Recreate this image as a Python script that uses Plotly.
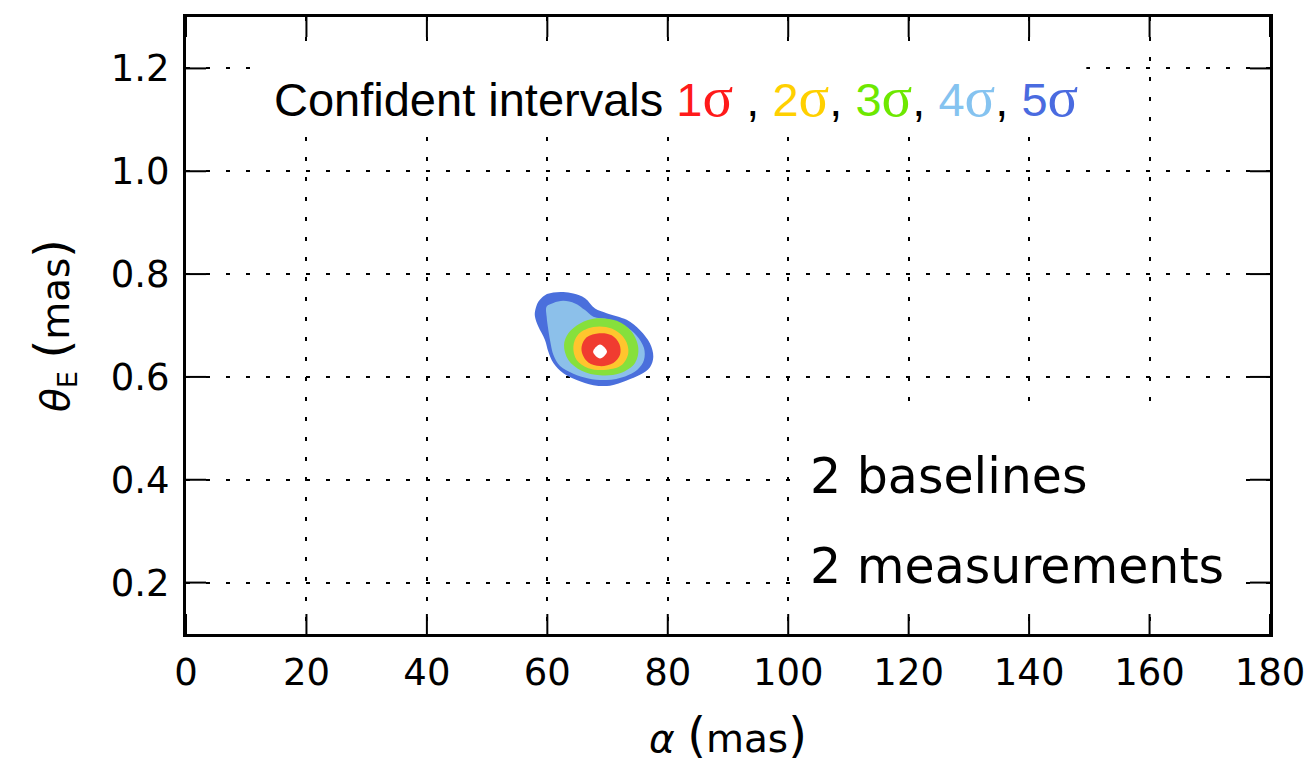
import plotly.graph_objects as go

# Confidence regions in the (alpha, theta_E) plane, outer to inner.
SIGMA5_X = [57.95, 58.50, 59.61, 61.00, 62.66, 64.32, 66.26, 67.92, 69.85, 73.18,
            75.39, 77.05, 77.60, 77.05, 75.39, 73.18, 70.41, 67.64, 64.87, 62.66,
            61.00, 60.17, 59.61, 58.50, 57.95]
SIGMA5_Y = [0.727, 0.746, 0.759, 0.764, 0.765, 0.762, 0.753, 0.733, 0.724, 0.711,
            0.691, 0.665, 0.639, 0.619, 0.604, 0.593, 0.583, 0.584, 0.594, 0.607,
            0.627, 0.649, 0.672, 0.698, 0.717]

SIGMA4_X = [59.89, 61.00, 62.66, 64.60, 66.26, 67.64, 70.10, 72.90, 74.84, 76.05,
            76.05, 74.95, 72.90, 69.85, 66.81, 64.32, 62.11, 61.00, 60.55, 60.17, 59.89]
SIGMA4_Y = [0.737, 0.744, 0.748, 0.743, 0.730, 0.717, 0.712, 0.699, 0.680, 0.656,
            0.633, 0.614, 0.601, 0.594, 0.597, 0.606, 0.621, 0.643, 0.665, 0.691, 0.717]

SIGMA3_X = [62.77, 63.49, 65.43, 68.19, 71.52, 74.01, 75.11, 74.56, 72.07, 68.75, 65.70, 63.49]
SIGMA3_Y = [0.662, 0.685, 0.704, 0.714, 0.709, 0.688, 0.656, 0.627, 0.607, 0.603, 0.612, 0.633]

SIGMA2_X = [64.32, 65.15, 67.64, 70.69, 72.90, 73.45, 72.35, 69.85, 66.81, 64.87]
SIGMA2_Y = [0.659, 0.683, 0.697, 0.694, 0.673, 0.647, 0.623, 0.614, 0.617, 0.633]

SIGMA1_X = [65.70, 66.53, 68.64, 70.69, 71.96, 72.07, 70.96, 68.75, 66.81, 65.87]
SIGMA1_Y = [0.659, 0.677, 0.685, 0.681, 0.664, 0.643, 0.627, 0.621, 0.628, 0.643]

PEAK_X = [67.60, 68.75, 69.90, 68.75]
PEAK_Y = [0.649, 0.663, 0.649, 0.636]

X_TICKS = [0, 20, 40, 60, 80, 100, 120, 140, 160, 180]
Y_TICKS = [0.2, 0.4, 0.6, 0.8, 1.0, 1.2]
X_RANGE = [0, 180]
Y_RANGE = [0.1, 1.3]

REGIONS = [
    (SIGMA5_X, SIGMA5_Y, "#4a6fdc", "5σ"),
    (SIGMA4_X, SIGMA4_Y, "#8cc0ea", "4σ"),
    (SIGMA3_X, SIGMA3_Y, "#86e03c", "3σ"),
    (SIGMA2_X, SIGMA2_Y, "#ffc52e", "2σ"),
    (SIGMA1_X, SIGMA1_Y, "#f03c30", "1σ"),
    (PEAK_X, PEAK_Y, "#ffffff", "best fit"),
]

fig = go.Figure()
for xs, ys, color, name in REGIONS:
    fig.add_trace(go.Scatter(
        x=xs + xs[:1], y=ys + ys[:1], mode="lines", name=name,
        line=dict(color=color, width=0, shape="spline", smoothing=1.0),
        fill="toself", fillcolor=color, hoverinfo="skip", showlegend=False,
    ))

# White boxes behind the two text blocks.
fig.add_shape(type="rect", xref="x", yref="y", x0=12, x1=149.5, y0=1.075, y1=1.25,
              fillcolor="white", line=dict(width=0))
fig.add_shape(type="rect", xref="x", yref="y", x0=100.6, x1=173.5, y0=0.145, y1=0.525,
              fillcolor="white", line=dict(width=0))

# Inward tick marks on all four sides of the frame.
TICK_LEN = 20
tick_line = dict(color="black", width=2)
for xv in X_TICKS:
    for edge, sgn in ((0, 1), (1, -1)):
        fig.add_shape(type="line", xref="x", yref="paper", ysizemode="pixel", yanchor=edge,
                      x0=xv, x1=xv, y0=0, y1=sgn * TICK_LEN, line=tick_line)
for yv in Y_TICKS:
    for edge, sgn in ((0, 1), (1, -1)):
        fig.add_shape(type="line", xref="paper", yref="y", xsizemode="pixel", xanchor=edge,
                      x0=0, x1=sgn * TICK_LEN, y0=yv, y1=yv, line=tick_line)

SIG = "<span style='font-family:Liberation Serif;font-size:57px;color:{c}'>σ</span>"
def sig(n, c):
    return f"<span style='color:{c}'>{n}</span>" + SIG.format(c=c)

title_text = ("Confident intervals " + sig(1, "#ff1a1a") + " , " + sig(2, "#ffd000") + ", "
              + sig(3, "#6de800") + ", " + sig(4, "#85c3f0") + ", " + sig(5, "#4a6be0"))
fig.add_annotation(x=14.3, y=1.145, xref="x", yref="y", text=title_text, showarrow=False,
                   xanchor="left", yanchor="middle",
                   font=dict(family="Liberation Sans", size=47, color="black"))

hand = dict(family="DejaVu Sans", size=49, color="black")
fig.add_annotation(x=103.3, y=0.407, xref="x", yref="y", text="2 baselines", showarrow=False,
                   xanchor="left", yanchor="middle", font=hand)
fig.add_annotation(x=103.3, y=0.232, xref="x", yref="y", text="2 measurements", showarrow=False,
                   xanchor="left", yanchor="middle", font=hand)

frame = dict(showgrid=True, gridcolor="black", gridwidth=2, griddash="4px,16px",
             ticks="", showline=True, linewidth=3, linecolor="black", mirror=True,
             zeroline=False, automargin=False)

PAREN = "<span style='font-size:48px'>{}</span>"
fig.update_layout(
    template="none",
    width=1311, height=773, margin=dict(l=186, r=41, t=17, b=139),
    plot_bgcolor="white", paper_bgcolor="white", showlegend=False,
    xaxis=dict(range=X_RANGE, tickvals=X_TICKS, ticklabelstandoff=4,
               tickfont=dict(family="DejaVu Sans", size=37, color="black"),
               title=dict(text="<i>α</i> " + PAREN.format("(") + "mas" + PAREN.format(")"),
                          standoff=32, font=dict(family="DejaVu Sans", size=39, color="black")),
               **frame),
    yaxis=dict(range=Y_RANGE, tickvals=Y_TICKS, tickformat=".1f", ticklabelstandoff=6,
               tickfont=dict(family="DejaVu Sans", size=37, color="black"),
               title=dict(text="<i>θ</i><sub>E</sub> " + PAREN.format("(") + "mas" + PAREN.format(")"),
                          standoff=30, font=dict(family="DejaVu Sans", size=39, color="black")),
               **frame),
)

fig.write_html("out.html")
